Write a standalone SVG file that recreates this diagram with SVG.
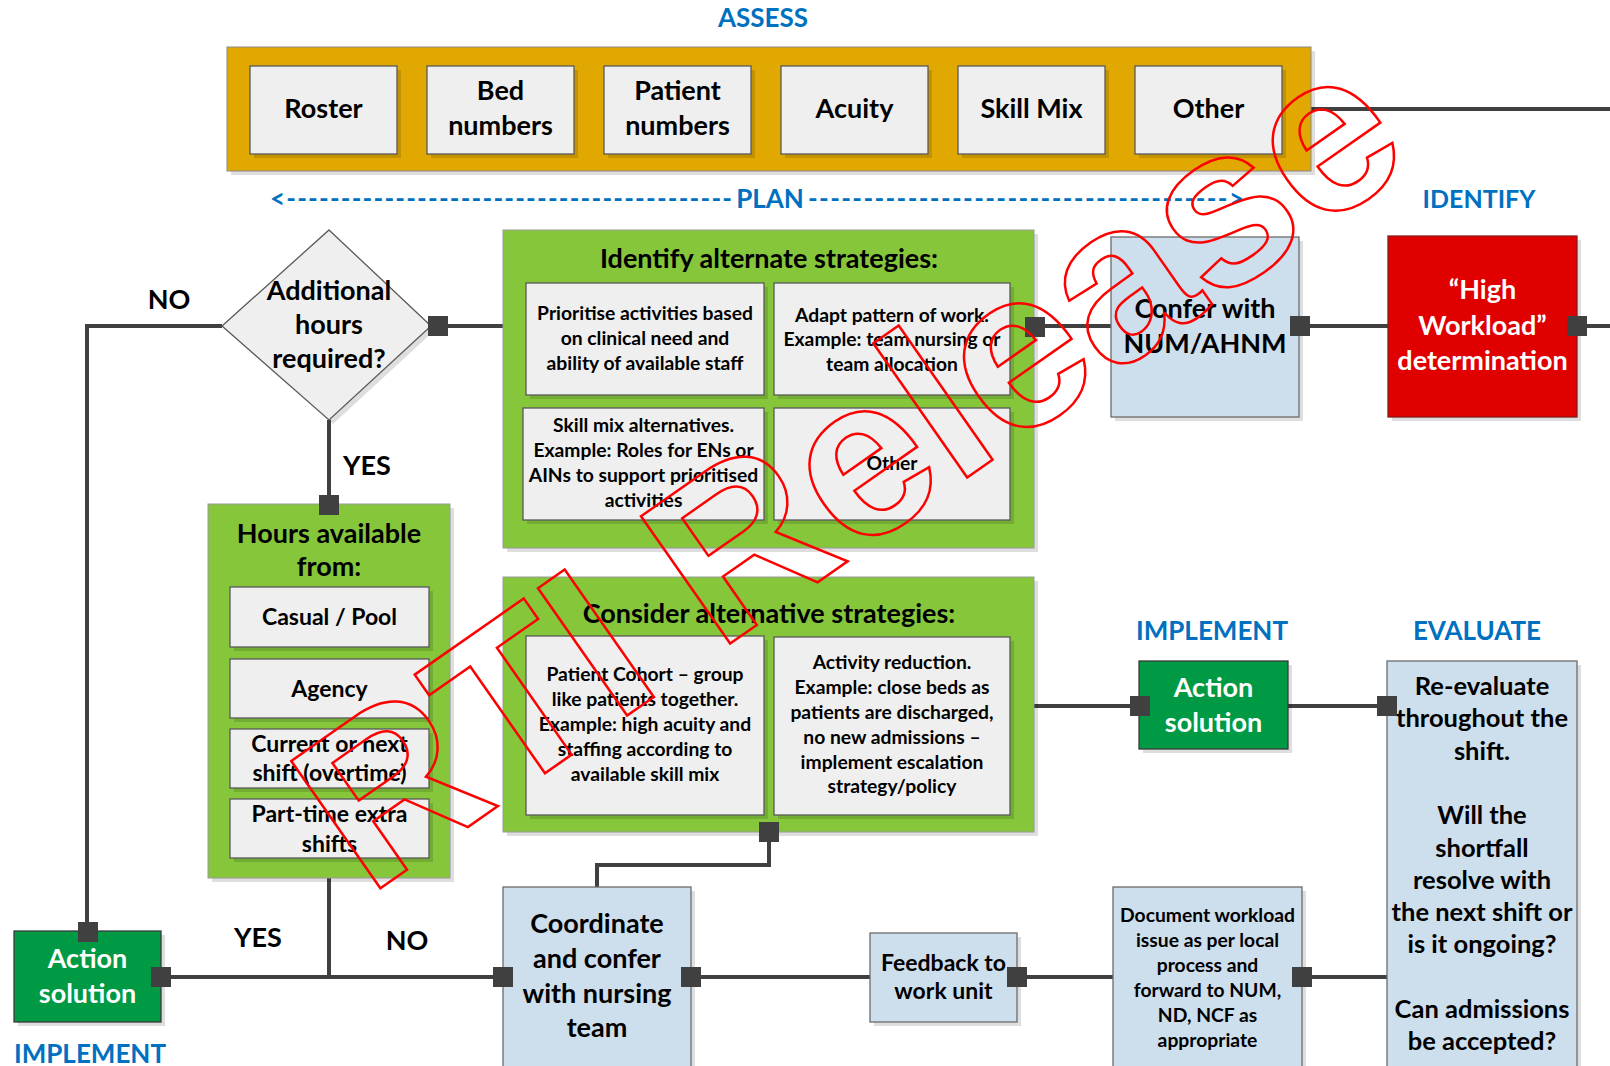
<svg xmlns="http://www.w3.org/2000/svg" width="1610" height="1066" viewBox="0 0 1610 1066">
<style>
text{font-family:Lato,"Liberation Sans",sans-serif;font-weight:bold;text-anchor:middle;fill:#000}
.phase{fill:#0070c0;font-size:26px}
.lbl{font-size:27px}
.ev{font-size:25.5px}
.sm{font-size:19.3px}
.md{font-size:23px}
.doc{font-size:19.3px}
.wht{fill:#fff}
.gray{fill:#efefef;stroke:#595959;stroke-width:1.3}
.sh{fill:#000;opacity:0.13}
.green{fill:#85c63b;stroke:#9a9a9a;stroke-width:1}
.dgreen{fill:#009a44;stroke:#3a3a3a;stroke-width:1.3}
.blue{fill:#cddeec;stroke:#6b6b6b;stroke-width:1.3}
.red{fill:#e00000;stroke:#8a1a1a;stroke-width:1.3}
.gold{fill:#e0a800;stroke:#8a8a8a;stroke-width:1}
.con{fill:none;stroke:#404040;stroke-width:4}
.sq{fill:#404040}
.wm{font-family:"Liberation Sans",Arial,sans-serif;font-weight:bold;font-size:226px;fill:none;stroke:#ff0000;stroke-width:2.5;text-anchor:start}
.plan{fill:#0070c0;font-size:26px}
</style>

<!-- headings -->
<g id="headings">
<text class="phase" x="763" y="27">ASSESS</text>
<text class="phase" x="1479" y="208" style="font-size:25px">IDENTIFY</text>
<text class="phase" x="1212" y="640">IMPLEMENT</text>
<text class="phase" x="1477" y="640">EVALUATE</text>
<text class="phase" x="90" y="1063">IMPLEMENT</text>
</g>

<g id="plan">
<text class="plan" x="270" y="208" textLength="462" lengthAdjust="spacing" style="text-anchor:start">&lt;-----------------------------------------</text>
<text class="plan" x="770" y="208">PLAN</text>
<text class="plan" x="808" y="208" textLength="436" lengthAdjust="spacing" style="text-anchor:start">--------------------------------------&gt;</text>
</g>

<!-- connectors -->
<g id="connectors">
<path class="con" d="M1311 109H1610"/>
<path class="con" d="M222 326H87V932"/>
<path class="con" d="M438 326H503"/>
<path class="con" d="M329 420V505"/>
<path class="con" d="M1035 326H1111"/>
<path class="con" d="M1300 326H1388"/>
<path class="con" d="M1577 326H1610"/>
<path class="con" d="M1033 706H1140"/>
<path class="con" d="M1288 706H1387"/>
<path class="con" d="M769 832V865H597V887"/>
<path class="con" d="M329 878V977"/>
<path class="con" d="M161 977H503"/>
<path class="con" d="M691 977H870"/>
<path class="con" d="M1017 977H1113"/>
<path class="con" d="M1302 977H1387"/>
</g>

<!-- ASSESS band -->
<g id="assess">
<rect class="sh" x="231" y="51" width="1084" height="124"/>
<rect class="gold" x="227" y="47" width="1084" height="124"/>
</g>
<g id="roster"><rect class="sh" x="254" y="70" width="147" height="88"/><rect class="gray" x="250" y="66" width="147" height="88"/><text class="lbl" x="323.5" y="118">Roster</text></g>
<g id="bed"><rect class="sh" x="431" y="70" width="147" height="88"/><rect class="gray" x="427" y="66" width="147" height="88"/><text class="lbl" x="500.5" y="100">Bed</text><text class="lbl" x="500.5" y="135">numbers</text></g>
<g id="patient"><rect class="sh" x="608" y="70" width="147" height="88"/><rect class="gray" x="604" y="66" width="147" height="88"/><text class="lbl" x="677.5" y="100">Patient</text><text class="lbl" x="677.5" y="135">numbers</text></g>
<g id="acuity"><rect class="sh" x="785" y="70" width="147" height="88"/><rect class="gray" x="781" y="66" width="147" height="88"/><text class="lbl" x="854.5" y="118">Acuity</text></g>
<g id="skillmix"><rect class="sh" x="962" y="70" width="147" height="88"/><rect class="gray" x="958" y="66" width="147" height="88"/><text class="lbl" x="1031.5" y="118">Skill Mix</text></g>
<g id="other-assess"><rect class="sh" x="1139" y="70" width="147" height="88"/><rect class="gray" x="1135" y="66" width="147" height="88"/><text class="lbl" x="1208.5" y="118">Other</text></g>

<!-- decision -->
<g id="decision">
<polygon class="sh" points="333,234 435,330 333,424 226,330"/>
<polygon class="gray" points="329,230 431,326 329,420 222,326"/>
<text class="lbl" x="329" y="300">Additional</text>
<text class="lbl" x="329" y="334">hours</text>
<text class="lbl" x="329" y="368">required?</text>
</g>

<!-- Identify alternate strategies -->
<g id="identify">
<rect class="sh" x="507" y="234" width="531" height="318"/>
<rect class="green" x="503" y="230" width="531" height="318"/>
<text class="lbl" x="769" y="268">Identify alternate strategies:</text>
<rect class="sh" x="530" y="287" width="238" height="112"/><rect class="gray" x="526" y="283" width="238" height="112"/>
<text class="sm" x="645" y="320">Prioritise activities based</text><text class="sm" x="645" y="345">on clinical need and</text><text class="sm" x="645" y="370">ability of available staff</text>
<rect class="sh" x="778" y="287" width="236" height="112"/><rect class="gray" x="774" y="283" width="236" height="112"/>
<text class="sm" x="892" y="322">Adapt pattern of work.</text><text class="sm" x="892" y="346">Example: team nursing or</text><text class="sm" x="892" y="371">team allocation</text>
<rect class="sh" x="527" y="412" width="241" height="112"/><rect class="gray" x="523" y="408" width="241" height="112"/>
<text class="sm" x="643.5" y="432">Skill mix alternatives.</text><text class="sm" x="643.5" y="457">Example: Roles for ENs or</text><text class="sm" x="643.5" y="482">AINs to support prioritised</text><text class="sm" x="643.5" y="507">activities</text>
<rect class="sh" x="778" y="412" width="236" height="112"/><rect class="gray" x="774" y="408" width="236" height="112"/>
<text class="sm" x="892" y="470">Other</text>
</g>

<!-- Consider alternative strategies -->
<g id="consider">
<rect class="sh" x="507" y="581" width="531" height="255"/>
<rect class="green" x="503" y="577" width="531" height="255"/>
<text class="lbl" x="769" y="623">Consider alternative strategies:</text>
<rect class="sh" x="530" y="640" width="238" height="179"/><rect class="gray" x="526" y="636" width="238" height="179"/>
<text class="sm" x="645" y="681">Patient Cohort – group</text><text class="sm" x="645" y="706">like patients together.</text><text class="sm" x="645" y="731">Example: high acuity and</text><text class="sm" x="645" y="756">staffing according to</text><text class="sm" x="645" y="781">available skill mix</text>
<rect class="sh" x="778" y="641" width="236" height="178"/><rect class="gray" x="774" y="637" width="236" height="178"/>
<text class="sm" x="892" y="669">Activity reduction.</text><text class="sm" x="892" y="694">Example: close beds as</text><text class="sm" x="892" y="719">patients are discharged,</text><text class="sm" x="892" y="744">no new admissions –</text><text class="sm" x="892" y="769">implement escalation</text><text class="sm" x="892" y="793">strategy/policy</text>
</g>

<!-- Hours available -->
<g id="hours">
<rect class="sh" x="212" y="508" width="242" height="374"/>
<rect class="green" x="208" y="504" width="242" height="374"/>
<text class="lbl" x="329" y="543">Hours available</text>
<text class="lbl" x="329" y="576">from:</text>
<rect class="sh" x="234" y="591" width="199" height="60"/><rect class="gray" x="230" y="587" width="199" height="60"/><text class="md" x="329.5" y="625">Casual / Pool</text>
<rect class="sh" x="234" y="663" width="199" height="59"/><rect class="gray" x="230" y="659" width="199" height="59"/><text class="md" x="329.5" y="697">Agency</text>
<rect class="sh" x="234" y="733" width="199" height="59"/><rect class="gray" x="230" y="729" width="199" height="59"/><text class="md" x="329.5" y="752">Current or next</text><text class="md" x="329.5" y="781">shift (overtime)</text>
<rect class="sh" x="234" y="803" width="199" height="59"/><rect class="gray" x="230" y="799" width="199" height="59"/><text class="md" x="329.5" y="822">Part-time extra</text><text class="md" x="329.5" y="852">shifts</text>
</g>

<!-- Confer -->
<g id="confer">
<rect class="sh" x="1115" y="241" width="188" height="180"/>
<rect class="blue" x="1111" y="237" width="188" height="180"/>
<text class="lbl" x="1205" y="318">Confer with</text>
<text class="lbl" x="1205" y="353">NUM/AHNM</text>
</g>

<!-- High workload -->
<g id="highworkload">
<rect class="sh" x="1392" y="240" width="189" height="181"/>
<rect class="red" x="1388" y="236" width="189" height="181"/>
<text class="lbl wht" x="1482.5" y="299">“High</text>
<text class="lbl wht" x="1482.5" y="335">Workload”</text>
<text class="lbl wht" x="1482.5" y="370">determination</text>
</g>

<!-- Action solution right -->
<g id="action-right">
<rect class="sh" x="1143" y="665" width="149" height="88"/>
<rect class="dgreen" x="1139" y="661" width="149" height="88"/>
<text class="lbl wht" x="1213.5" y="697">Action</text>
<text class="lbl wht" x="1213.5" y="732">solution</text>
</g>

<!-- Evaluate -->
<g id="evaluate">
<rect class="sh" x="1391" y="665" width="190" height="420"/>
<rect class="blue" x="1387" y="661" width="190" height="420"/>
<text class="ev" x="1482" y="695">Re-evaluate</text>
<text class="ev" x="1482" y="727">throughout the</text>
<text class="ev" x="1482" y="760">shift.</text>
<text class="ev" x="1482" y="824">Will the</text>
<text class="ev" x="1482" y="857">shortfall</text>
<text class="ev" x="1482" y="889">resolve with</text>
<text class="ev" x="1482" y="921">the next shift or</text>
<text class="ev" x="1482" y="953">is it ongoing?</text>
<text class="ev" x="1482" y="1018">Can admissions</text>
<text class="ev" x="1482" y="1050">be accepted?</text>
</g>

<!-- Document -->
<g id="document">
<rect class="sh" x="1117" y="891" width="189" height="200"/>
<rect class="blue" x="1113" y="887" width="189" height="200"/>
<text class="doc" x="1207.5" y="922">Document workload</text>
<text class="doc" x="1207.5" y="947">issue as per local</text>
<text class="doc" x="1207.5" y="972">process and</text>
<text class="doc" x="1207.5" y="997">forward to NUM,</text>
<text class="doc" x="1207.5" y="1022">ND, NCF as</text>
<text class="doc" x="1207.5" y="1047">appropriate</text>
</g>

<!-- Feedback -->
<g id="feedback">
<rect class="sh" x="874" y="937" width="147" height="89"/>
<rect class="blue" x="870" y="933" width="147" height="89"/>
<text class="md" x="943.5" y="971">Feedback to</text>
<text class="md" x="943.5" y="999">work unit</text>
</g>

<!-- Coordinate -->
<g id="coordinate">
<rect class="sh" x="507" y="891" width="188" height="200"/>
<rect class="blue" x="503" y="887" width="188" height="200"/>
<text class="lbl" x="597" y="933">Coordinate</text>
<text class="lbl" x="597" y="968">and confer</text>
<text class="lbl" x="597" y="1003">with nursing</text>
<text class="lbl" x="597" y="1037">team</text>
</g>

<!-- Action solution left -->
<g id="action-left">
<rect class="sh" x="18" y="935" width="147" height="91"/>
<rect class="dgreen" x="14" y="931" width="147" height="91"/>
<text class="lbl wht" x="87.5" y="968">Action</text>
<text class="lbl wht" x="87.5" y="1003">solution</text>
</g>

<!-- connector end squares -->
<g id="ports">
<rect class="sq" x="428" y="316" width="20" height="20"/>
<rect class="sq" x="319" y="495" width="20" height="20"/>
<rect class="sq" x="1025" y="317" width="20" height="20"/>
<rect class="sq" x="1290" y="316" width="20" height="20"/>
<rect class="sq" x="1567" y="316" width="20" height="20"/>
<rect class="sq" x="1130" y="696" width="20" height="20"/>
<rect class="sq" x="1377" y="696" width="20" height="20"/>
<rect class="sq" x="759" y="822" width="20" height="20"/>
<rect class="sq" x="78" y="922" width="20" height="20"/>
<rect class="sq" x="151" y="967" width="20" height="20"/>
<rect class="sq" x="493" y="967" width="20" height="20"/>
<rect class="sq" x="681" y="967" width="20" height="20"/>
<rect class="sq" x="1007" y="967" width="20" height="20"/>
<rect class="sq" x="1292" y="967" width="20" height="20"/>
</g>

<!-- edge labels -->
<g id="edge-labels">
<text class="lbl" x="169" y="309">NO</text>
<text class="lbl" x="367" y="475">YES</text>
<text class="lbl" x="258" y="947">YES</text>
<text class="lbl" x="407" y="950">NO</text>
</g>

<!-- watermark -->
<text class="wm" transform="translate(368,897) rotate(-35)">RTI Release</text>
</svg>
